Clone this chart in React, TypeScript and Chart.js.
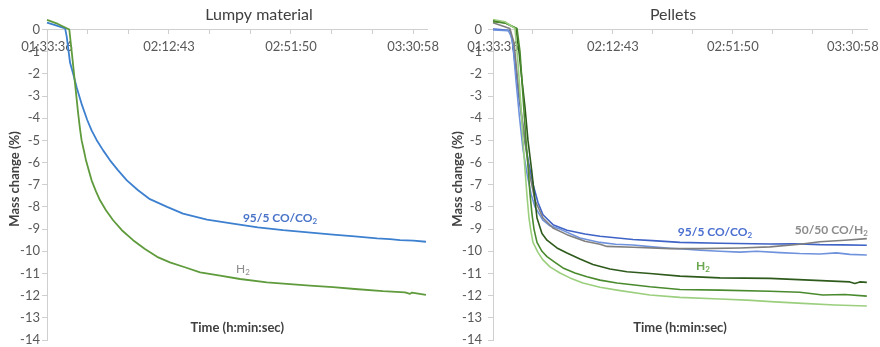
import React, { useEffect, useRef } from 'react';
import { Chart, registerables } from 'chart.js';

Chart.register(...registerables);

const FONT = 'Lato, "Open Sans", "DejaVu Sans", sans-serif';

// ---- axis data ----
const TICK_LABELS = ['01:33:36', '02:12:43', '02:51:50', '03:30:58'];
const Y_MIN = -14;
const Y_MAX = 0;
const X_MAX = 122; // minutes elapsed since first tick

// ---- Lumpy material (x: minutes since 01:33:36, y: mass change %) ----
const LUMPY_CO_T = [0, 2.6, 5.8, 6.3, 7.4, 8.3, 9.5, 11.2, 12.9, 14.3, 15.9, 18.0, 20.2, 22.8, 25.6, 29.2, 33.0, 38.5, 43.6, 51.3, 59.6, 67.6, 75.7, 83.7, 91.7, 98.7, 105.8, 110.0, 113.2, 117.5, 121.5];
const LUMPY_CO_V = [0.31, 0.2, 0.05, -0.3, -1.5, -1.95, -2.6, -3.4, -4.08, -4.55, -4.98, -5.45, -5.9, -6.35, -6.8, -7.25, -7.65, -8.0, -8.3, -8.57, -8.75, -8.92, -9.05, -9.15, -9.25, -9.33, -9.42, -9.45, -9.5, -9.52, -9.57];
const LUMPY_H2_T = [0, 3.5, 7.15, 8.0, 9.0, 10.0, 10.6, 11.1, 11.9, 12.5, 13.5, 14.3, 15.7, 17.0, 18.9, 21.2, 24.0, 27.6, 31.4, 35.3, 39.4, 44.2, 49.1, 55.5, 61.9, 70.5, 77.9, 84.3, 91.7, 98.7, 107.7, 114.8, 116.4, 117.0, 121.5];
const LUMPY_H2_V = [0.43, 0.25, 0.0, -1.1, -2.45, -3.8, -4.5, -5.0, -5.5, -5.9, -6.4, -6.8, -7.3, -7.7, -8.15, -8.6, -9.05, -9.5, -9.9, -10.25, -10.5, -10.72, -10.95, -11.1, -11.25, -11.4, -11.48, -11.55, -11.62, -11.7, -11.8, -11.85, -11.92, -11.86, -11.97];

// ---- Pellets ----
const PEL_CO_A_T = [0, 2.3, 5.6, 6.3, 7.5, 8.5, 9.5, 10.5, 11.6, 13.1, 14.67, 16.3, 19.56, 24.13, 30.0, 34.9, 45.65, 52.0, 60.97, 74.01, 90.32, 98.0, 106.62, 114.0, 121.94];
const PEL_CO_A_V = [0.02, 0.0, -0.05, -0.5, -1.9, -3.1, -4.1, -5.1, -6.0, -7.0, -7.8, -8.35, -8.8, -9.05, -9.22, -9.32, -9.47, -9.52, -9.6, -9.64, -9.67, -9.66, -9.7, -9.71, -9.73];
const PEL_CO_B_T = [0, 5.0, 5.9, 6.5, 7.5, 8.6, 9.78, 11.09, 12.39, 13.69, 16.3, 18.58, 21.85, 28.37, 34.9, 40.0, 45.65, 52.0, 57.71, 62.0, 67.49, 74.0, 80.53, 86.0, 93.58, 100.0, 106.62, 112.0, 116.4, 121.94];
const PEL_CO_B_V = [-0.02, -0.05, -0.3, -0.7, -2.3, -3.9, -5.4, -6.5, -7.4, -8.0, -8.6, -8.85, -9.0, -9.4, -9.6, -9.68, -9.72, -9.8, -9.86, -9.9, -9.95, -10.0, -10.04, -10.0, -10.06, -10.1, -10.12, -10.07, -10.14, -10.17];
const PEL_COH2_T = [0, 5.5, 6.85, 8.15, 9.46, 10.76, 12.06, 13.69, 16.3, 19.56, 24.13, 30.0, 34.9, 37.17, 45.65, 57.71, 67.49, 80.53, 90.32, 100.1, 106.62, 114.77, 121.94];
const PEL_COH2_V = [0.3, 0.05, -0.6, -2.4, -4.0, -5.4, -6.6, -7.7, -8.5, -8.95, -9.25, -9.55, -9.68, -9.78, -9.82, -9.88, -9.88, -9.85, -9.8, -9.68, -9.57, -9.5, -9.43];
const PEL_H2_A_T = [0, 3.91, 7.5, 8.48, 9.46, 10.43, 11.41, 12.6, 13.37, 14.35, 15.98, 17.61, 20.87, 24.13, 28.37, 32.6, 38.15, 43.69, 51.19, 60.97, 74.01, 90.32, 103.36, 116.4, 118.03, 119.66, 121.94];
const PEL_H2_A_V = [0.4, 0.3, 0.05, -1.0, -2.3, -3.5, -5.0, -6.33, -7.3, -8.5, -9.2, -9.5, -9.85, -10.08, -10.35, -10.6, -10.8, -10.92, -11.0, -11.12, -11.2, -11.22, -11.3, -11.38, -11.45, -11.38, -11.4];
const PEL_H2_B_T = [0, 3.91, 7.83, 8.8, 9.78, 10.76, 11.5, 12.06, 12.7, 13.37, 14.35, 15.98, 17.61, 20.22, 22.82, 26.74, 30.65, 34.9, 40.43, 51.19, 60.97, 74.01, 90.32, 100.1, 107.6, 114.77, 121.94];
const PEL_H2_B_V = [0.35, 0.3, 0.05, -1.0, -3.0, -5.0, -6.3, -7.4, -8.3, -9.0, -9.6, -10.0, -10.24, -10.5, -10.75, -10.98, -11.15, -11.3, -11.43, -11.6, -11.72, -11.75, -11.8, -11.85, -11.97, -11.95, -12.02];
const PEL_H2_C_T = [0, 3.91, 7.17, 8.15, 9.13, 9.78, 10.43, 11.09, 11.74, 12.39, 13.04, 14.67, 16.3, 18.58, 21.85, 25.11, 29.34, 34.9, 40.43, 51.19, 60.97, 74.01, 82.82, 91.95, 101.08, 111.51, 121.94];
const PEL_H2_C_V = [0.45, 0.35, 0.05, -1.5, -3.5, -5.0, -6.3, -7.5, -8.5, -9.1, -9.6, -10.05, -10.39, -10.7, -10.98, -11.2, -11.43, -11.62, -11.75, -11.97, -12.08, -12.15, -12.2, -12.28, -12.35, -12.42, -12.47];

// ---- helpers ----
function toSec(s: string) {
  const [h, m, sec] = s.split(':').map(Number);
  return h * 3600 + m * 60 + sec;
}
const MAJOR_MIN = TICK_LABELS.map((l) => (toSec(l) - toSec(TICK_LABELS[0])) / 60);
const TICK_MIN: number[] = [];
for (let i = 0; i < MAJOR_MIN.length; i++) {
  TICK_MIN.push(MAJOR_MIN[i]);
  if (i < MAJOR_MIN.length - 1) {
    const d = MAJOR_MIN[i + 1] - MAJOR_MIN[i];
    TICK_MIN.push(MAJOR_MIN[i] + d / 3, MAJOR_MIN[i] + (2 * d) / 3);
  }
}

const AXIS_COLOR = '#cfcfcf';
const TICK_COLOR = '#595959';

function drawRich(ctx: CanvasRenderingContext2D, text: string, x: number, y: number, size: number, weight: string, color: string, align: 'center' | 'right' | 'left' = 'center') {
  const parts = text.split('₂');
  const main = `${weight} ${size}px ${FONT}`;
  const sub = `${weight} ${Math.round(size * 0.68)}px ${FONT}`;
  const segs: { t: string; f: string; dy: number }[] = [];
  parts.forEach((p, i) => {
    if (p) segs.push({ t: p, f: main, dy: 0 });
    if (i < parts.length - 1) segs.push({ t: '2', f: sub, dy: size * 0.3 });
  });
  let w = 0;
  segs.forEach((s) => { ctx.font = s.f; w += ctx.measureText(s.t).width; });
  let cx = align === 'center' ? x - w / 2 : align === 'right' ? x - w : x;
  ctx.fillStyle = color;
  ctx.textBaseline = 'middle';
  ctx.textAlign = 'left';
  segs.forEach((s) => {
    ctx.font = s.f;
    ctx.fillText(s.t, cx, y + s.dy);
    cx += ctx.measureText(s.t).width;
  });
}

const textPlugin = {
  id: 'panelText',
  afterDraw(chart: any, _args: any, opts: any) {
    const { ctx, chartArea, scales } = chart;
    ctx.save();
    // panel title
    ctx.fillStyle = '#404040';
    ctx.font = `16px ${FONT}`;
    ctx.textAlign = 'center';
    ctx.textBaseline = 'middle';
    ctx.fillText(opts.title, opts.titleX, 15);
    // y axis title
    ctx.save();
    ctx.translate(opts.yTitleX, 179);
    ctx.rotate(-Math.PI / 2);
    ctx.font = `bold 13px ${FONT}`;
    ctx.fillStyle = '#404040';
    ctx.textAlign = 'center';
    ctx.textBaseline = 'middle';
    ctx.fillText('Mass change (%)', 0, 0);
    ctx.restore();
    // x axis title
    ctx.font = `bold 13px ${FONT}`;
    ctx.fillStyle = '#404040';
    ctx.textAlign = 'center';
    ctx.textBaseline = 'middle';
    ctx.fillText('Time (h:min:sec)', (chartArea.left + chartArea.right) / 2, 328);
    // series labels at data coordinates
    (opts.labels || []).forEach((l: any) => {
      const x = scales.x.getPixelForValue(l.t);
      const y = scales.y.getPixelForValue(l.v);
      drawRich(ctx, l.text, x, y, 12, l.weight, l.color, l.align || 'center');
    });
    ctx.restore();
  },
};

type Series = { t: number[]; v: number[]; color: string; width: number };

function zeroPad(s: any) {
  s.paddingTop = 0;
  s.paddingBottom = 0;
  s.paddingLeft = 0;
  s.paddingRight = 0;
}

function makeConfig(series: Series[], p: { yWidth: number; yPad: number; padRight: number; text: any }) {
  return {
    type: 'line' as const,
    data: {
      datasets: series.map((s) => ({
        data: s.t.map((t, i) => ({ x: t, y: s.v[i] })),
        borderColor: s.color,
        backgroundColor: s.color,
        borderWidth: s.width,
        pointRadius: 0,
        fill: false,
        tension: 0,
        clip: false as const,
        borderJoinStyle: 'round' as const,
      })),
    },
    options: {
      animation: false as const,
      responsive: false,
      layout: { padding: { left: 0, right: p.padRight, top: 29.5, bottom: 7 } },
      plugins: {
        legend: { display: false },
        tooltip: { enabled: false },
        panelText: p.text,
      },
      scales: {
        x: {
          type: 'linear' as const,
          position: { y: 0 },
          min: 0,
          max: X_MAX,
          afterFit: (s: any) => { s.height = 0; zeroPad(s); },
          afterBuildTicks: (s: any) => { s.ticks = TICK_MIN.map((v) => ({ value: v })); },
          ticks: {
            autoSkip: false,
            maxRotation: 0,
            padding: 6,
            color: TICK_COLOR,
            font: { family: FONT, size: 13 },
            callback: (_v: any, i: number) => (i % 3 === 0 ? TICK_LABELS[i / 3] : ''),
          },
          grid: { drawOnChartArea: false, tickLength: 4, color: AXIS_COLOR },
          border: { color: AXIS_COLOR },
        },
        y: {
          min: Y_MIN,
          max: Y_MAX,
          afterFit: (s: any) => { s.width = p.yWidth; zeroPad(s); },
          ticks: { stepSize: 1, padding: p.yPad, color: TICK_COLOR, font: { family: FONT, size: 13 } },
          grid: { drawOnChartArea: false, tickLength: 5, color: AXIS_COLOR },
          border: { color: AXIS_COLOR },
        },
      },
    },
    plugins: [textPlugin],
  };
}

const LUMPY_SERIES: Series[] = [
  { t: LUMPY_H2_T, v: LUMPY_H2_V, color: '#5f9b3c', width: 1.8 },
  { t: LUMPY_CO_T, v: LUMPY_CO_V, color: '#3d80cf', width: 1.8 },
];
const PELLET_SERIES: Series[] = [
  { t: PEL_H2_C_T, v: PEL_H2_C_V, color: '#9bcf7e', width: 1.6 },
  { t: PEL_H2_B_T, v: PEL_H2_B_V, color: '#4a8a2e', width: 1.6 },
  { t: PEL_H2_A_T, v: PEL_H2_A_V, color: '#2e5a1c', width: 1.6 },
  { t: PEL_COH2_T, v: PEL_COH2_V, color: '#7f7f7f', width: 1.6 },
  { t: PEL_CO_B_T, v: PEL_CO_B_V, color: '#6f92dc', width: 1.6 },
  { t: PEL_CO_A_T, v: PEL_CO_A_V, color: '#3f63c6', width: 1.6 },
];

function Panel(props: { left: number; series: Series[]; cfg: any }) {
  const ref = useRef<HTMLCanvasElement>(null);
  useEffect(() => {
    const chart = new Chart(ref.current as HTMLCanvasElement, makeConfig(props.series, props.cfg) as any);
    return () => chart.destroy();
  }, []);
  return (
    <div style={{ position: 'absolute', left: props.left, top: 0, width: 440, height: 347 }}>
      <canvas ref={ref} width={440} height={347} style={{ width: 440, height: 347, display: 'block' }} />
    </div>
  );
}

export default function App() {
  return (
    <div style={{ position: 'absolute', left: 0, top: 0, width: 880, height: 347, background: '#fff', overflow: 'hidden' }}>
      <Panel
        left={0}
        series={LUMPY_SERIES}
        cfg={{
          yWidth: 47,
          yPad: 2,
          padRight: 12.5,
          text: {
            title: 'Lumpy material',
            titleX: 259,
            yTitleX: 15,
            labels: [
              { text: '95/5 CO/CO₂', t: 74.7, v: -8.5, color: '#4a74c8', weight: 'bold' },
              { text: 'H₂', t: 62.8, v: -10.8, color: '#8c8c8c', weight: 'normal' },
            ],
          },
        }}
      />
      <Panel
        left={440}
        series={PELLET_SERIES}
        cfg={{
          yWidth: 53,
          yPad: 6,
          padRight: 13,
          text: {
            title: 'Pellets',
            titleX: 233,
            yTitleX: 18,
            labels: [
              { text: '95/5 CO/CO₂', t: 72.4, v: -9.13, color: '#4a6fd0', weight: 'bold' },
              { text: '50/50 CO/H₂', t: 122.3, v: -9.04, color: '#8c8c8c', weight: 'bold', align: 'right' },
              { text: 'H₂', t: 68.5, v: -10.66, color: '#6aa84f', weight: 'bold' },
            ],
          },
        }}
      />
    </div>
  );
}
